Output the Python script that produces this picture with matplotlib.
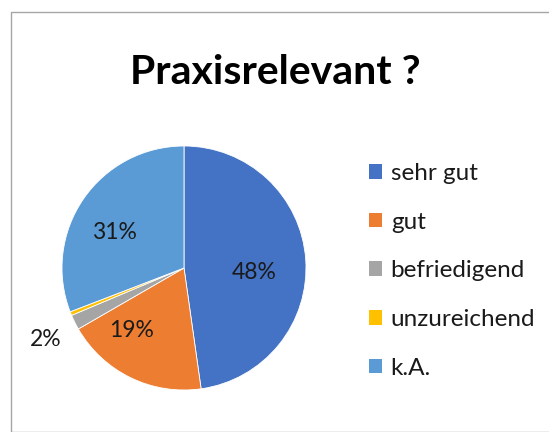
import matplotlib
matplotlib.use("Agg")
import matplotlib.pyplot as plt
import matplotlib.patches as mpatches

plt.rcParams['font.family'] = ['Lato', 'DejaVu Sans']

title = "Praxisrelevant ?"
categories = ["sehr gut", "gut", "befriedigend", "unzureichend", "k.A."]
values = [48, 19, 2, 0.5, 31]
labels = ["48%", "19%", "2%", "", "31%"]
colors = ["#4472C4", "#ED7D31", "#A5A5A5", "#FFC000", "#5B9BD5"]
# label placement in units of pie radius (relative to centre)
label_pos = [(0.574, -0.033), (-0.426, -0.516), (-1.13, -0.59), None, (-0.574, 0.295)]

W, H = 549, 432
fig = plt.figure(figsize=(W / 100, H / 100), dpi=100)

# chart border
fig.patches.append(mpatches.Rectangle((11 / W, 0), 1.0, 1 - 12 / H, transform=fig.transFigure,
                                      fill=False, edgecolor="#A6A6A6", linewidth=1.0, clip_on=False))

cx, cy, r = 184, 268, 122
ax = fig.add_axes([(cx - r) / W, (H - cy - r) / H, 2 * r / W, 2 * r / H])
wedges, _ = ax.pie(values, colors=colors, startangle=90, counterclock=False,
                   wedgeprops=dict(edgecolor="white", linewidth=0.6))
ax.set_xlim(-1, 1)
ax.set_ylim(-1, 1)
ax.set_aspect('equal')
ax.axis('off')

for lab, pos in zip(labels, label_pos):
    if not lab or pos is None:
        continue
    ax.text(pos[0], pos[1], lab, ha='center', va='center',
            fontsize=16.5, color='#1a1a1a', clip_on=False)

fig.text(275 / W, 1 - 72 / H, title, ha='center', va='center', fontsize=29.5,
         fontweight='bold', color='black')

handles = [mpatches.Patch(facecolor=c, edgecolor='none') for c in colors]
leg = fig.legend(handles, categories, loc='upper left', bbox_to_anchor=(347 / W, 1 - 141 / H),
                 frameon=False, fontsize=17.5, handlelength=0.55, handleheight=0.55,
                 handletextpad=0.35, labelspacing=1.14)
for t in leg.get_texts():
    t.set_color('#1a1a1a')

fig.savefig("out.png", dpi=100)
